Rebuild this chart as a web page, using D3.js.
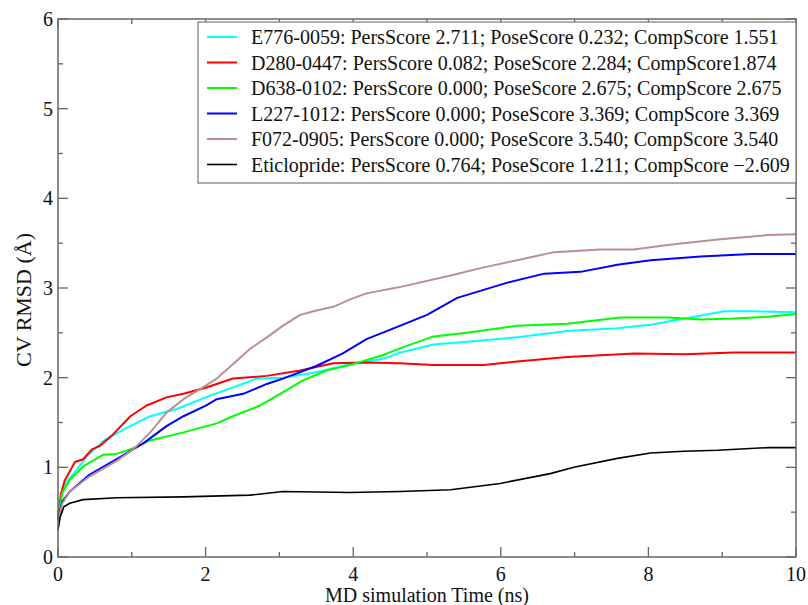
<!DOCTYPE html>
<html>
<head>
<meta charset="utf-8">
<script src="https://cdn.jsdelivr.net/npm/d3@7"></script>
</head>
<body style="margin:0; background:#fff">
<div id="chart"></div>
<script>
// RMSD traces, [time (ns), RMSD (Å)]
const e776 = [[0,0.45],[0.05,0.7],[0.12,0.84],[0.25,0.97],[0.39,1.12],[0.48,1.19],[0.64,1.31],[0.93,1.44],[1.25,1.57],[1.61,1.65],[2.06,1.8],[2.37,1.89],[2.69,1.99],[3.05,2.0],[3.5,2.06],[3.95,2.15],[4.4,2.21],[4.64,2.28],[5.09,2.37],[5.54,2.4],[6.22,2.45],[6.9,2.52],[7.58,2.55],[8.03,2.59],[8.49,2.66],[9.03,2.74],[9.39,2.74],[10,2.73]];
const d280 = [[0,0.45],[0.04,0.7],[0.09,0.85],[0.23,1.06],[0.34,1.09],[0.46,1.2],[0.57,1.24],[0.75,1.37],[0.98,1.57],[1.2,1.69],[1.47,1.78],[1.7,1.82],[2.01,1.89],[2.37,1.99],[2.83,2.02],[3.28,2.08],[3.73,2.16],[4.18,2.17],[4.63,2.16],[5.09,2.14],[5.77,2.14],[6.22,2.18],[6.9,2.23],[7.81,2.27],[8.49,2.26],[9.16,2.28],[10,2.28]];
const d638 = [[0,0.45],[0.06,0.72],[0.16,0.86],[0.34,1.01],[0.61,1.14],[0.79,1.15],[0.98,1.2],[1.25,1.3],[1.7,1.39],[2.15,1.49],[2.37,1.57],[2.74,1.69],[3.05,1.84],[3.32,1.97],[3.64,2.08],[3.95,2.14],[4.4,2.25],[4.64,2.33],[5.09,2.46],[5.54,2.5],[6.22,2.58],[6.9,2.6],[7.62,2.67],[8.26,2.67],[8.71,2.65],[9.16,2.66],[9.62,2.68],[10,2.71]];
const l227 = [[0,0.42],[0.06,0.62],[0.16,0.73],[0.43,0.92],[0.79,1.09],[1.16,1.27],[1.47,1.46],[1.7,1.57],[2.01,1.69],[2.15,1.76],[2.51,1.82],[2.83,1.93],[3.05,1.99],[3.5,2.13],[3.86,2.27],[4.18,2.43],[4.64,2.58],[5.0,2.7],[5.41,2.89],[6.09,3.06],[6.59,3.16],[7.08,3.18],[7.58,3.26],[8.03,3.31],[8.71,3.35],[9.39,3.38],[10,3.38]];
const f072 = [[0,0.4],[0.06,0.6],[0.16,0.73],[0.43,0.9],[0.79,1.07],[1.02,1.2],[1.25,1.39],[1.47,1.61],[1.7,1.76],[1.92,1.87],[2.15,1.99],[2.37,2.15],[2.6,2.32],[2.83,2.45],[3.05,2.58],[3.28,2.7],[3.5,2.75],[3.73,2.79],[3.95,2.87],[4.18,2.94],[4.63,3.01],[5.32,3.14],[5.77,3.23],[6.22,3.31],[6.72,3.4],[7.35,3.43],[7.8,3.43],[8.26,3.48],[8.94,3.54],[9.62,3.59],[10,3.6]];
const eticlopride = [[0,0.3],[0.03,0.45],[0.08,0.56],[0.16,0.6],[0.34,0.64],[0.8,0.66],[1.7,0.67],[2.6,0.69],[3.05,0.73],[3.95,0.72],[4.64,0.73],[5.32,0.75],[5.99,0.82],[6.67,0.93],[6.99,1.0],[7.58,1.1],[8.03,1.16],[8.48,1.18],[8.94,1.19],[9.62,1.22],[10,1.22]];

const seriesNames = [
  "E776-0059: PersScore 2.711; PoseScore 0.232; CompScore 1.551",
  "D280-0447: PersScore 0.082; PoseScore 2.284; CompScore1.874",
  "D638-0102: PersScore 0.000; PoseScore 2.675; CompScore 2.675",
  "L227-1012: PersScore 0.000; PoseScore 3.369; CompScore 3.369",
  "F072-0905: PersScore 0.000; PoseScore 3.540; CompScore 3.540",
  "Eticlopride: PersScore 0.764; PoseScore 1.211; CompScore \u22122.609"
];
const seriesData = [e776, d280, d638, l227, f072, eticlopride];
const seriesColors = ["#00ffff", "#ff0000", "#00ff00", "#0000ff", "#bc8f8f", "#000000"];

const xTicks = [0, 2, 4, 6, 8, 10];
const yTicks = [0, 1, 2, 3, 4, 5, 6];

const width = 808, height = 605;
const margin = { top: 19, right: 12, bottom: 48, left: 58 };
const innerW = width - margin.left - margin.right;
const innerH = height - margin.top - margin.bottom;
const serif = "Liberation Serif";

const svg = d3.select("#chart").append("svg")
  .attr("width", width)
  .attr("height", height);

const x = d3.scaleLinear().domain([0, 10]).range([margin.left, margin.left + innerW]);
const y = d3.scaleLinear().domain([0, 6]).range([margin.top + innerH, margin.top]);

const frameColor = "#666";

// inward ticks, xmgrace style
const tickG = svg.append("g").attr("stroke", frameColor).attr("stroke-width", 1.3);
d3.range(0, 10.01, 1).forEach(v => {
  const len = v % 2 === 0 ? 10 : 5;
  tickG.append("line").attr("x1", x(v)).attr("x2", x(v)).attr("y1", y(0)).attr("y2", y(0) - len);
  tickG.append("line").attr("x1", x(v)).attr("x2", x(v)).attr("y1", y(6)).attr("y2", y(6) + len);
});
d3.range(0, 6.01, 0.5).forEach(v => {
  const len = v % 1 === 0 ? 10 : 5;
  tickG.append("line").attr("x1", x(0)).attr("x2", x(0) + len).attr("y1", y(v)).attr("y2", y(v));
  tickG.append("line").attr("x1", x(10)).attr("x2", x(10) - len).attr("y1", y(v)).attr("y2", y(v));
});

// curves
const line = d3.line().x(d => x(d[0])).y(d => y(d[1]));
svg.append("g")
  .attr("fill", "none")
  .selectAll("path")
  .data(seriesData)
  .join("path")
  .attr("stroke", (d, i) => seriesColors[i])
  .attr("stroke-width", (d, i) => i === 5 ? 1.6 : 2)
  .attr("stroke-linejoin", "round")
  .attr("d", line);

// frame
svg.append("rect")
  .attr("x", x(0)).attr("y", y(6))
  .attr("width", x(10) - x(0)).attr("height", y(0) - y(6))
  .attr("fill", "none").attr("stroke", frameColor).attr("stroke-width", 1.5);

// tick labels (texts straight on the svg, font set per element)
xTicks.forEach(d => {
  svg.append("text")
    .attr("x", x(d)).attr("y", y(0) + 24)
    .attr("text-anchor", "middle").attr("fill", "#111")
    .attr("font-family", serif).attr("font-size", 20)
    .style("font-family", serif).style("font-size", "20px")
    .text(d);
});
yTicks.forEach(d => {
  svg.append("text")
    .attr("x", 48).attr("y", y(d) + 7)
    .attr("text-anchor", "middle").attr("fill", "#111")
    .attr("font-family", serif).attr("font-size", 20)
    .style("font-family", serif).style("font-size", "20px")
    .text(d);
});

// axis titles
svg.append("text")
  .attr("x", (x(0) + x(10)) / 2).attr("y", 602)
  .attr("text-anchor", "middle").attr("fill", "#111")
  .attr("font-family", serif).attr("font-size", 20)
  .style("font-family", serif).style("font-size", "20px")
  .text("MD simulation Time (ns)");

svg.append("text")
  .attr("transform", "translate(31,300) rotate(-90)")
  .attr("text-anchor", "middle").attr("fill", "#111")
  .attr("font-family", serif).attr("font-size", 22)
  .style("font-family", serif).style("font-size", "22px")
  .text("CV RMSD (\u00c5)");

// legend
svg.append("rect")
  .attr("x", 198).attr("y", 22).attr("width", 598).attr("height", 161)
  .attr("fill", "#fff").attr("stroke", "#777").attr("stroke-width", 1.2);

seriesNames.forEach((name, i) => {
  const ly = 37 + i * 25.5;
  svg.append("line")
    .attr("x1", 207).attr("x2", 237).attr("y1", ly).attr("y2", ly)
    .attr("stroke", seriesColors[i])
    .attr("stroke-width", i === 5 ? 1.6 : 2);
  svg.append("text")
    .attr("x", 251).attr("y", ly + 7)
    .attr("fill", "#111")
    .attr("font-family", serif).attr("font-size", 20)
    .style("font-family", serif).style("font-size", "20px")
    .text(name);
});
</script>
</body>
</html>
